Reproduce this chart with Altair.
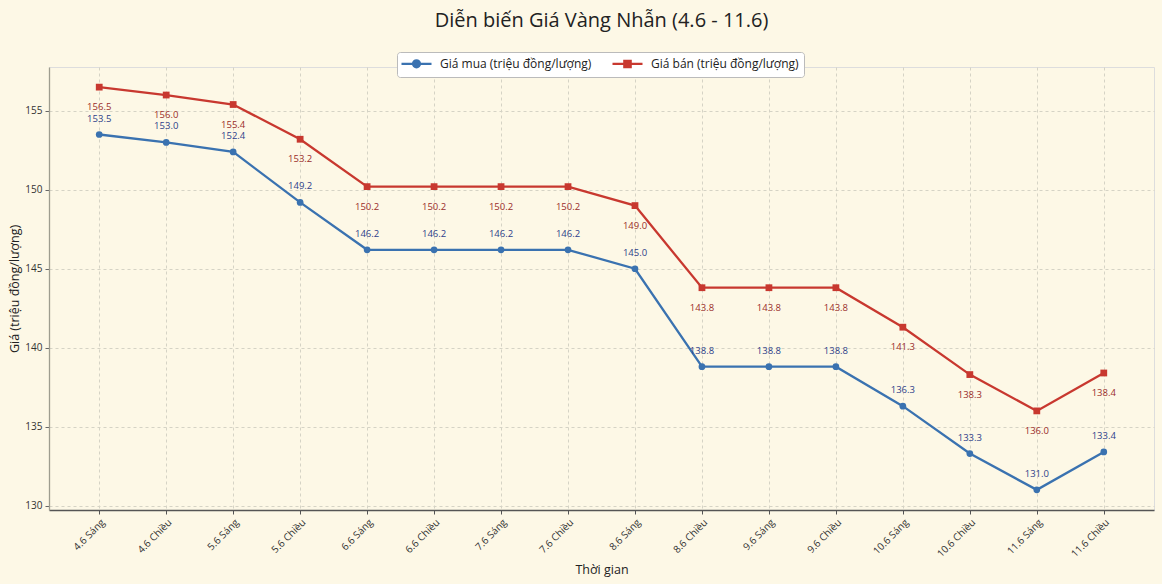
import altair as alt
import pandas as pd

categories = ["4.6 Sáng", "4.6 Chiều", "5.6 Sáng", "5.6 Chiều", "6.6 Sáng", "6.6 Chiều",
              "7.6 Sáng", "7.6 Chiều", "8.6 Sáng", "8.6 Chiều", "9.6 Sáng", "9.6 Chiều",
              "10.6 Sáng", "10.6 Chiều", "11.6 Sáng", "11.6 Chiều"]
buy = [153.5, 153.0, 152.4, 149.2, 146.2, 146.2, 146.2, 146.2, 145.0, 138.8, 138.8, 138.8,
       136.3, 133.3, 131.0, 133.4]
sell = [156.5, 156.0, 155.4, 153.2, 150.2, 150.2, 150.2, 150.2, 149.0, 143.8, 143.8, 143.8,
        141.3, 138.3, 136.0, 138.4]

BUY = "Giá mua (triệu đồng/lượng)"
SELL = "Giá bán (triệu đồng/lượng)"
series_names = [BUY, SELL]
colors = ["#3a72b0", "#c8382f"]

rows = []
for c, b, s in zip(categories, buy, sell):
    rows.append({"t": c, "series": BUY, "v": b})
    rows.append({"t": c, "series": SELL, "v": s})
df = pd.DataFrame(rows)

FONT = "Open Sans"
BG = "#fdf8e6"

x_enc = alt.X("t:N", sort=categories, title="Thời gian",
              scale=alt.Scale(type="point", padding=0.75),
              axis=alt.Axis(labelAngle=315, labelAlign="right", labelBaseline="top",
                            labelFontSize=10, labelColor="#333", titleFontSize=12.5,
                            titleColor="#222", titleFontWeight="normal", titlePadding=5,
                            labelPadding=3, grid=True, gridDash=[3, 3], gridColor="#d5d3c5",
                            domainColor="#555", domainWidth=1.3, tickColor="#555",
                            tickSize=4))
y_enc = alt.Y("v:Q", title="Giá (triệu đồng/lượng)",
              scale=alt.Scale(domain=[129.725, 157.775], nice=False, zero=False),
              axis=alt.Axis(values=[130, 135, 140, 145, 150, 155], labelFontSize=10,
                            labelColor="#333", titleFontSize=12.5, titleColor="#222",
                            titleFontWeight="normal", titlePadding=3, grid=True,
                            gridDash=[3, 3], gridColor="#d5d3c5", domainColor="#9e9d8f",
                            domainWidth=1.3, tickColor="#666", tickSize=4, labelPadding=3))

color_scale = alt.Scale(domain=series_names, range=colors)

circle_path = "M-3,0L3,0M-0.7,0A0.7,0.7 0 1,0 0.7,0A0.7,0.7 0 1,0 -0.7,0Z"
square_path = "M-3,0L3,0M-0.64,-0.64L0.64,-0.64L0.64,0.64L-0.64,0.64Z"

shape_expr = f"datum.value === '{BUY}' ? '{circle_path}' : '{square_path}'"
col_expr = f"datum.value === '{BUY}' ? '{colors[0]}' : '{colors[1]}'"

legend = alt.Legend(
    title=None, orient="none", legendX=348, legendY=-15, direction="horizontal",
    fillColor="#ffffff", strokeColor="#bbbbbb", cornerRadius=3, padding=5,
    labelFontSize=12, labelColor="#222", symbolSize=100, symbolStrokeWidth=2.2,
    symbolOffset=8, labelOffset=17, columnPadding=16,
    symbolType=alt.ExprRef(shape_expr),
    symbolFillColor=alt.ExprRef(col_expr),
    symbolStrokeColor=alt.ExprRef(col_expr))

base = alt.Chart(df)

lines = base.mark_line(strokeWidth=2.3).encode(
    x=x_enc, y=y_enc,
    color=alt.Color("series:N", scale=color_scale, legend=legend))

buy_pts = base.transform_filter(alt.datum.series == BUY).mark_point(
    filled=True, opacity=1, size=45, shape="circle", color=colors[0]).encode(x=x_enc, y=y_enc)
sell_pts = base.transform_filter(alt.datum.series == SELL).mark_point(
    filled=True, opacity=1, size=46, shape="square", color=colors[1]).encode(x=x_enc, y=y_enc)

buy_text = base.transform_filter(alt.datum.series == BUY).mark_text(
    dy=-16, fontSize=9.5, color="#2d3f8a", font=FONT).encode(
    x=x_enc, y=y_enc, text=alt.Text("v:Q", format=".1f"))

sell_text = base.transform_filter(alt.datum.series == SELL).mark_text(
    dy=20, fontSize=9.5, color="#9a2d2a", font=FONT).encode(
    x=x_enc, y=y_enc, text=alt.Text("v:Q", format=".1f"))

chart = alt.layer(lines, buy_pts, sell_pts, buy_text, sell_text).properties(
    width=1105, height=443,
    title=alt.TitleParams("Diễn biến Giá Vàng Nhẫn (4.6 - 11.6)", fontSize=20,
                          font=FONT, fontWeight="normal", color="#222", offset=21,
                          anchor="middle"),
    background=BG,
    autosize=alt.AutoSizeParams(type="none"),
    padding={"left": 49, "top": 67, "right": 8, "bottom": 74},
).configure_view(stroke="#aaa99a", strokeWidth=1.2).configure(font=FONT)

chart.save("out.html", embed_options={"renderer": "svg", "actions": False})
